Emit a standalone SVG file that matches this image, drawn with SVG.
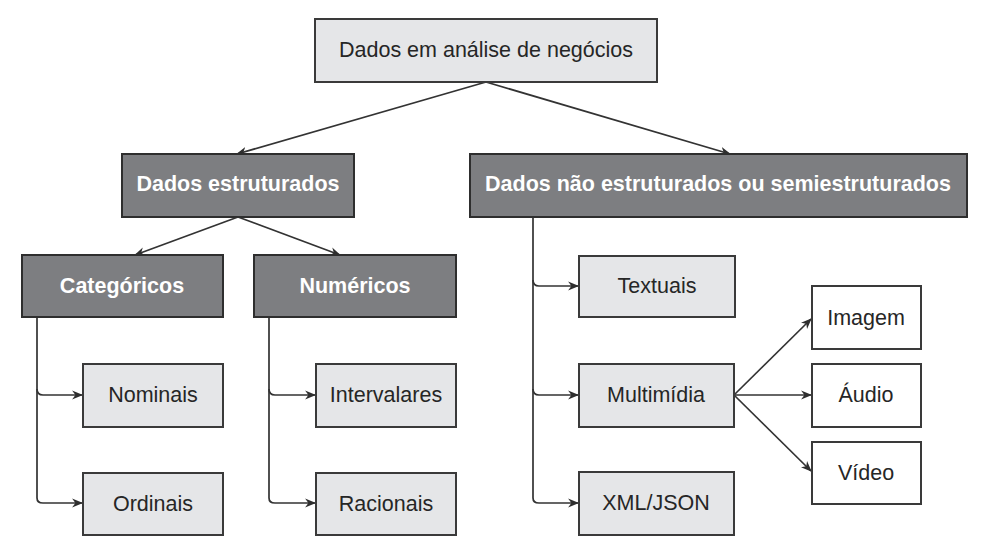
<svg xmlns="http://www.w3.org/2000/svg" width="987" height="554" viewBox="0 0 987 554">
<style>
.light{fill:#e5e6e8;stroke:#3a3a3a;stroke-width:2}
.dark{fill:#7d7e81;stroke:#2e2e2e;stroke-width:2}
.white{fill:#ffffff;stroke:#3a3a3a;stroke-width:2}
.t{font-family:"Liberation Sans",Arial,sans-serif;font-size:21.5px;fill:#262626;text-anchor:middle;dominant-baseline:central}
.tb{font-family:"Liberation Sans",Arial,sans-serif;font-size:21.5px;font-weight:bold;fill:#ffffff;text-anchor:middle;dominant-baseline:central}
.c{fill:none;stroke:#333;stroke-width:1.7}
</style>
<defs>
<marker id="ah" viewBox="0 0 10 10" refX="9" refY="5" markerWidth="11" markerHeight="11" markerUnits="userSpaceOnUse" orient="auto">
<path d="M0,1 L10,5 L0,9 L3,5 z" fill="#2e2e2e"/>
</marker>
</defs>
<rect width="987" height="554" fill="#ffffff"/>
<g id="connectors">
<path class="c" d="M486,82 L237,154" marker-end="url(#ah)"/>
<path class="c" d="M486,82 L730,154" marker-end="url(#ah)"/>
<path class="c" d="M238,217 L135,255" marker-end="url(#ah)"/>
<path class="c" d="M238,217 L340,255" marker-end="url(#ah)"/>
<path class="c" d="M37,317 L37,498 Q37,503 43,503 L82,503" marker-end="url(#ah)"/>
<path class="c" d="M37,389 Q37,395 43,395 L82,395" marker-end="url(#ah)"/>
<path class="c" d="M269,317 L269,498 Q269,503 275,503 L315,503" marker-end="url(#ah)"/>
<path class="c" d="M269,389 Q269,395 275,395 L315,395" marker-end="url(#ah)"/>
<path class="c" d="M533,217 L533,498 Q533,503 539,503 L578,503" marker-end="url(#ah)"/>
<path class="c" d="M533,280 Q533,286 539,286 L578,286" marker-end="url(#ah)"/>
<path class="c" d="M533,389 Q533,395 539,395 L578,395" marker-end="url(#ah)"/>
<path class="c" d="M734,395 L811,319" marker-end="url(#ah)"/>
<path class="c" d="M734,395 L811,395" marker-end="url(#ah)"/>
<path class="c" d="M734,395 L811,471" marker-end="url(#ah)"/>
</g>
<g id="root"><rect class="light" x="315" y="19" width="342" height="63"/><text class="t" x="486" y="50">Dados em análise de negócios</text></g>
<g id="estruturados"><rect class="dark" x="122" y="154" width="232" height="63"/><text class="tb" x="238" y="184">Dados estruturados</text></g>
<g id="naoestruturados"><rect class="dark" x="470" y="154" width="497" height="63"/><text class="tb" x="718" y="184">Dados não estruturados ou semiestruturados</text></g>
<g id="categoricos"><rect class="dark" x="22" y="255" width="201" height="62"/><text class="tb" x="122" y="286">Categóricos</text></g>
<g id="numericos"><rect class="dark" x="254" y="255" width="202" height="62"/><text class="tb" x="355" y="286">Numéricos</text></g>
<g id="nominais"><rect class="light" x="83" y="364" width="140" height="63"/><text class="t" x="153" y="395">Nominais</text></g>
<g id="ordinais"><rect class="light" x="83" y="473" width="140" height="62"/><text class="t" x="153" y="504">Ordinais</text></g>
<g id="intervalares"><rect class="light" x="316" y="364" width="140" height="63"/><text class="t" x="386" y="395">Intervalares</text></g>
<g id="racionais"><rect class="light" x="316" y="473" width="140" height="62"/><text class="t" x="386" y="504">Racionais</text></g>
<g id="textuais"><rect class="light" x="579" y="256" width="156" height="61"/><text class="t" x="657" y="286">Textuais</text></g>
<g id="multimidia"><rect class="light" x="579" y="364" width="155" height="63"/><text class="t" x="656" y="395">Multimídia</text></g>
<g id="xmljson"><rect class="light" x="579" y="472" width="155" height="63"/><text class="t" x="656" y="503">XML/JSON</text></g>
<g id="imagem"><rect class="white" x="812" y="286" width="109" height="63"/><text class="t" x="866" y="318">Imagem</text></g>
<g id="audio"><rect class="white" x="812" y="364" width="109" height="63"/><text class="t" x="866" y="395">Áudio</text></g>
<g id="video"><rect class="white" x="812" y="442" width="109" height="62"/><text class="t" x="866" y="473">Vídeo</text></g>
</svg>
